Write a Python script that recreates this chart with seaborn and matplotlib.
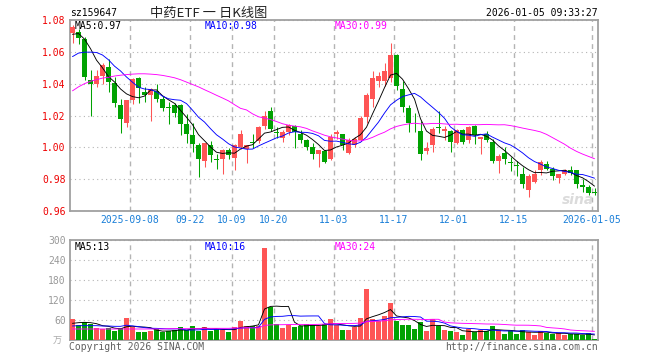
import numpy as np
import pandas as pd
import matplotlib
matplotlib.use("Agg")
import matplotlib.pyplot as plt
import seaborn as sns

# ---------------- data ----------------
opens = [1.0717, 1.0723, 1.0680, 1.0425, 1.0400, 1.0450, 1.0502, 1.0402, 1.0267, 1.0152,
         1.0300, 1.0433, 1.0350, 1.0330, 1.0352, 1.0304, 1.0252, 1.0265, 1.0263, 1.0148,
         1.0075, 1.0013, 0.9913, 1.0013, 0.9926, 0.9929, 0.9981, 0.9935, 1.0002, 0.9992,
         1.0029, 1.0040, 1.0131, 1.0227, 1.0098, 1.0060, 1.0096, 1.0131, 1.0081, 1.0048,
         1.0002, 0.9961, 0.9975, 0.9929, 1.0081, 1.0081, 0.9965, 1.0013, 1.0048, 1.0190,
         1.0304, 1.0415, 1.0415, 1.0433, 1.0579, 1.0367, 1.0248, 1.0155, 1.0102, 0.9977,
         1.0017, 1.0128, 1.0100, 1.0102, 1.0027, 1.0110, 1.0048, 1.0131, 1.0054, 1.0086,
         1.0033, 0.9915, 0.9965, 0.9906, 0.9885, 0.9835, 0.9735, 0.9783, 0.9860, 0.9898,
         0.9867, 0.9810, 0.9831, 0.9856, 0.9856, 0.9763, 0.9748, 0.9717]
highs = [1.0770, 1.0745, 1.0692, 1.0485, 1.0488, 1.0530, 1.0555, 1.0440, 1.0304, 1.0296,
         1.0435, 1.0440, 1.0381, 1.0375, 1.0398, 1.0320, 1.0283, 1.0280, 1.0270, 1.0211,
         1.0152, 1.0030, 1.0030, 1.0040, 0.9961, 0.9992, 0.9996, 1.0023, 1.0106, 1.0017,
         1.0081, 1.0131, 1.0227, 1.0252, 1.0127, 1.0106, 1.0148, 1.0138, 1.0106, 1.0054,
         1.0027, 0.9985, 0.9985, 1.0081, 1.0106, 1.0085, 1.0060, 1.0065, 1.0200, 1.0340,
         1.0481, 1.0471, 1.0527, 1.0658, 1.0585, 1.0415, 1.0263, 1.0215, 1.0165, 1.0033,
         1.0127, 1.0231, 1.0131, 1.0106, 1.0117, 1.0117, 1.0131, 1.0138, 1.0068, 1.0102,
         1.0054, 0.9960, 1.0002, 0.9940, 0.9915, 0.9877, 0.9835, 0.9860, 0.9919, 0.9915,
         0.9877, 0.9835, 0.9867, 0.9880, 0.9860, 0.9800, 0.9763, 0.9744]
lows = [1.0655, 1.0652, 1.0425, 1.0200, 1.0377, 1.0400, 1.0346, 1.0252, 1.0092, 1.0127,
        1.0275, 1.0280, 1.0283, 1.0165, 1.0283, 1.0227, 1.0148, 1.0190, 1.0080, 1.0027,
        0.9971, 0.9811, 0.9877, 0.9908, 0.9861, 0.9831, 0.9929, 0.9856, 0.9990, 0.9902,
        0.9998, 1.0027, 1.0117, 1.0100, 1.0060, 1.0033, 1.0075, 0.9998, 1.0027, 0.9981,
        0.9929, 0.9877, 0.9902, 0.9919, 1.0054, 0.9985, 0.9960, 1.0004, 1.0040, 1.0150,
        1.0252, 1.0381, 1.0385, 1.0408, 1.0360, 1.0220, 1.0096, 1.0096, 0.9923, 0.9956,
        0.9971, 1.0090, 1.0048, 0.9971, 1.0020, 1.0023, 1.0027, 1.0023, 0.9960, 1.0033,
        0.9900, 0.9840, 0.9898, 0.9852, 0.9819, 0.9742, 0.9690, 0.9773, 0.9825, 0.9856,
        0.9794, 0.9773, 0.9825, 0.9825, 0.9742, 0.9721, 0.9700, 0.9700]
closes = [1.0758, 1.0686, 1.0445, 1.0400, 1.0450, 1.0517, 1.0410, 1.0277, 1.0180, 1.0296,
          1.0431, 1.0373, 1.0330, 1.0367, 1.0304, 1.0248, 1.0245, 1.0217, 1.0148, 1.0085,
          1.0019, 0.9929, 1.0027, 0.9950, 0.9921, 0.9981, 0.9950, 1.0013, 1.0081, 1.0013,
          1.0025, 1.0127, 1.0200, 1.0117, 1.0088, 1.0096, 1.0138, 1.0096, 1.0048, 1.0002,
          0.9961, 0.9981, 0.9908, 1.0065, 1.0096, 1.0017, 1.0048, 1.0054, 1.0183, 1.0331,
          1.0433, 1.0450, 1.0477, 1.0579, 1.0383, 1.0252, 1.0152, 1.0150, 0.9961, 0.9996,
          1.0117, 1.0124, 1.0113, 1.0033, 1.0110, 1.0033, 1.0127, 1.0075, 1.0065, 1.0048,
          0.9915, 0.9944, 0.9929, 0.9902, 0.9881, 0.9767, 0.9819, 0.9835, 0.9908, 0.9867,
          0.9819, 0.9831, 0.9856, 0.9840, 0.9769, 0.9748, 0.9711, 0.9713]
volumes = [62, 45, 55, 48, 35, 32, 35, 28, 37, 67,
           40, 25, 25, 28, 32, 23, 27, 29, 40, 29,
           43, 28, 40, 26, 32, 33, 25, 40, 58, 43,
           43, 43, 277, 98, 47, 37, 45, 40, 43, 47,
           45, 43, 47, 62, 45, 30, 30, 38, 67, 153,
           62, 58, 72, 112, 57, 45, 45, 33, 53, 27,
           62, 43, 30, 27, 24, 15, 34, 24, 30, 27,
           42, 30, 18, 27, 18, 31, 25, 15, 27, 21,
           18, 20, 15, 18, 18, 16, 21, 3]

# moving-average values for the first days (history before the window)
ma5_head = [1.0710, 1.0715, 1.0680, 1.0620]
ma10_head = [1.0570, 1.0592, 1.0598, 1.0598, 1.0596, 1.0580, 1.0550, 1.0510, 1.0480]
ma30_head = [1.0355, 1.0380, 1.0400, 1.0415, 1.0425, 1.0435, 1.0440, 1.0448, 1.0453, 1.0457,
             1.0460, 1.0462, 1.0462, 1.0460, 1.0457, 1.0452, 1.0445, 1.0437, 1.0425, 1.0410,
             1.0395, 1.0380, 1.0362, 1.0345, 1.0327, 1.0310, 1.0292, 1.0268, 1.0245]
vma5_head = [50, 52, 53, 52]
vma10_head = [42, 43, 43, 43, 43, 42, 42, 41, 41]
vma30_head = [33, 33, 33, 33, 33, 33, 33, 33, 33, 33,
              33, 33, 33, 33, 33, 33, 34, 34, 34, 34,
              34, 34, 35, 35, 35, 35, 35, 36, 36]

tick_dates = ["2025-09-08", "2025-09-22", "2025-10-09", "2025-10-20", "2025-11-03",
              "2025-11-17", "2025-12-01", "2025-12-15", "2026-01-05"]
tick_labels = ["2025-09-08", "09-22", "10-09", "10-20", "11-03",
               "11-17", "12-01", "12-15", "2026-01-05"]
price_ticks = [0.96, 0.98, 1.00, 1.02, 1.04, 1.06, 1.08]
vol_ticks = [60, 120, 180, 240, 300]

holidays = ["2025-10-01", "2025-10-02", "2025-10-03", "2025-10-06", "2025-10-07",
            "2025-10-08", "2026-01-01", "2026-01-02"]
dates = pd.bdate_range("2025-08-25", "2026-01-05")
dates = dates[~dates.isin(pd.to_datetime(holidays))]

# ---------------- derived ----------------
n = len(closes)
idx = np.arange(n)
o = np.array(opens); c = np.array(closes); h = np.array(highs); l = np.array(lows)
up = c >= o

def ma(values, w, head):
    s = pd.Series(values, dtype=float).rolling(w).mean()
    s.iloc[:len(head)] = head
    return s.values

ma5 = ma(closes, 5, ma5_head)
ma10 = ma(closes, 10, ma10_head)
ma30 = ma(closes, 30, ma30_head)
vma5 = ma(volumes, 5, vma5_head)
vma10 = ma(volumes, 10, vma10_head)
vma30 = ma(volumes, 30, vma30_head)

tick_pos = np.array([dates.get_loc(pd.Timestamp(d)) for d in tick_dates]) - 0.42

# ---------------- style ----------------
sns.set_style("white")
plt.rcParams["font.family"] = ["DejaVu Sans Mono", "Noto Sans CJK SC"]
RED = "#fe5555"
GREEN = "#01a202"
FRAME = "#a0a0a0"
GRID = "#b4b4b4"
W, H = 660, 360
LW = 0.65

fig = plt.figure(figsize=(6.6, 3.6), dpi=100)
fig.patch.set_facecolor("white")

def px_axes(x0, y0, x1, y1):
    return fig.add_axes([x0 / W, 1 - y1 / H, (x1 - x0) / W, (y1 - y0) / H])

ax = px_axes(70, 20, 598, 211)
axv = px_axes(70, 240, 598, 340)

# ---- price panel ----
cols = np.where(up, RED, GREEN)
ax.vlines(idx, l, h, colors=cols, linewidth=0.75, zorder=3)
body_bottom = np.minimum(o, c)
body_h = np.maximum(np.abs(c - o), 0.0006)
ax.bar(idx, body_h, bottom=body_bottom, width=0.83, color=cols, linewidth=0, zorder=4)

sns.lineplot(x=idx, y=ma5, color="black", linewidth=LW, ax=ax, zorder=5)
sns.lineplot(x=idx, y=ma10, color="#0000ff", linewidth=LW, ax=ax, zorder=5)
sns.lineplot(x=idx, y=ma30, color="#ff00ff", linewidth=LW, ax=ax, zorder=5)

ax.set_xlim(-0.4167, n - 0.4167)
ax.set_ylim(0.96, 1.08)
ax.set_yticks(price_ticks)
ax.set_yticklabels([f"{v:.2f}" for v in price_ticks], color="#ee0000", fontsize=7)
ax.set_xticks(tick_pos)
ax.set_xticklabels(tick_labels, color="#1a7fd8", fontsize=7)
ax.tick_params(axis="both", length=0, pad=3)
ax.set_xlabel(""); ax.set_ylabel("")

# ---- volume panel ----
vdf = pd.DataFrame({"i": idx, "vol": volumes, "dir": np.where(up, "up", "down")})
sns.barplot(data=vdf, x="i", y="vol", hue="dir", palette={"up": RED, "down": GREEN},
            dodge=False, width=0.83, saturation=1, legend=False, ax=axv, zorder=3,
            linewidth=0)
sns.lineplot(x=idx, y=vma5, color="black", linewidth=LW, ax=axv, zorder=5)
sns.lineplot(x=idx, y=vma10, color="#0000ff", linewidth=LW, ax=axv, zorder=5)
sns.lineplot(x=idx, y=vma30, color="#ff00ff", linewidth=LW, ax=axv, zorder=5)
axv.set_xlim(-0.4167, n - 0.4167)
axv.set_ylim(0, 300)
axv.set_yticks(vol_ticks)
axv.set_yticklabels([str(v) for v in vol_ticks], color="#999999", fontsize=7)
axv.set_xticks(tick_pos)
axv.set_xticklabels([])
axv.tick_params(axis="both", length=0, pad=3)
axv.set_xlabel(""); axv.set_ylabel("")

for a in (ax, axv):
    a.set_facecolor("white")
    a.yaxis.grid(True, color=GRID, linestyle=(0, (1, 3)), linewidth=0.8)
    a.xaxis.grid(True, color=GRID, linestyle=(0, (3.5, 3)), linewidth=1.0)
    a.set_axisbelow(True)
    for sp in a.spines.values():
        sp.set_color(FRAME)
        sp.set_linewidth(1.3)
        sp.set_visible(True)

# ---------------- texts ----------------
def ftext(x, y, s, **kw):
    kw.setdefault("va", "center")
    fig.text(x / W, 1 - y / H, s, **kw)

ftext(70, 13, "sz159647", fontsize=7, color="black")
ftext(209, 13, "中药ETF 一 日K线图", fontsize=9.5, color="#222222", ha="center",
      family=["Noto Sans CJK SC", "DejaVu Sans"])
ftext(598, 13, "2026-01-05 09:33:27", fontsize=7, color="black", ha="right")

ftext(75, 26, "MA5:0.97", fontsize=7, color="black")
ftext(205, 26, "MA10:0.98", fontsize=7, color="#0000ff")
ftext(335, 26, "MA30:0.99", fontsize=7, color="#ff00ff")

ftext(75, 247, "MA5:13", fontsize=7, color="black")
ftext(205, 247, "MA10:16", fontsize=7, color="#0000ff")
ftext(335, 247, "MA30:24", fontsize=7, color="#ff00ff")

ftext(57, 341, "万", fontsize=6.5, color="#aaaaaa", ha="center",
      family=["Noto Sans CJK SC", "DejaVu Sans"])
ftext(69, 347, "Copyright 2026 SINA.COM", fontsize=7, color="#606060")
ftext(598, 347, "http://finance.sina.com.cn", fontsize=7, color="#606060", ha="right")
ftext(578, 200, "sina", fontsize=10, color="#cccccc", ha="center", style="italic",
      weight="bold", family="DejaVu Sans", alpha=0.7)

fig.savefig("out.png", dpi=100, facecolor="white")
